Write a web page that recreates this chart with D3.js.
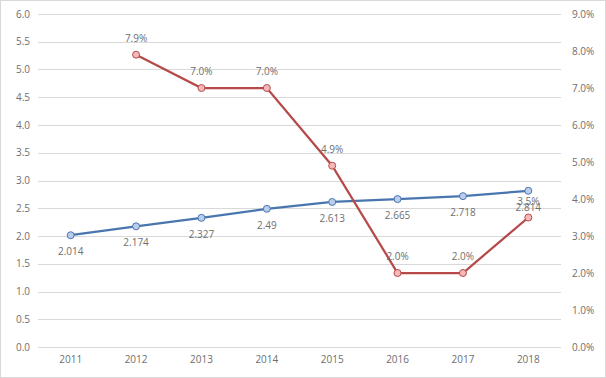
<!DOCTYPE html>
<html><head><meta charset="utf-8">
<script src="https://cdn.jsdelivr.net/npm/d3@7"></script>
<style>body{margin:0;background:#fff}svg{display:block}text{font-family:"Open Sans","Liberation Sans",sans-serif}</style>
</head><body><svg id="c" width="606" height="378"></svg>
<script>
const years = ["2011","2012","2013","2014","2015","2016","2017","2018"];
const valueSeries = [2.014, 2.174, 2.327, 2.49, 2.613, 2.665, 2.718, 2.814];
const valueLabels = ["2.014","2.174","2.327","2.49","2.613","2.665","2.718","2.814"];
const rateYears = ["2012","2013","2014","2015","2016","2017","2018"];
const rateSeries = [7.9, 7.0, 7.0, 4.9, 2.0, 2.0, 3.5];
const leftTicks = [0,0.5,1,1.5,2,2.5,3,3.5,4,4.5,5,5.5,6];
const rightTicks = [0,1,2,3,4,5,6,7,8,9];

const svg = d3.select("#c");
const L = 38, R = 561, T = 14, B = 347;
const txt = "#6e6e6e";
svg.append("rect").attr("x",0.5).attr("y",0.5).attr("width",605).attr("height",377)
  .attr("fill","#fff").attr("stroke","#d9d9d9");

const x = d3.scaleBand().domain(years).range([L,R]);
const yL = d3.scaleLinear().domain([0,6]).range([B,T]);
const yR = d3.scaleLinear().domain([0,9]).range([B,T]);
const cx = d => x(d) + x.bandwidth()/2;

svg.append("g").selectAll("line").data(leftTicks).join("line")
  .attr("x1",L).attr("x2",R).attr("y1",d=>Math.round(yL(d))+0.5).attr("y2",d=>Math.round(yL(d))+0.5)
  .attr("stroke","#d9d9d9").attr("stroke-width",1);

const axL = d3.axisLeft(yL).tickValues(leftTicks).tickFormat(d3.format(".1f")).tickSize(0).tickPadding(8);
const gL = svg.append("g").attr("transform",`translate(${L},0)`).call(axL);
const axR = d3.axisRight(yR).tickValues(rightTicks).tickFormat(d=>d3.format(".1f")(d)+"%").tickSize(0).tickPadding(11);
const gR = svg.append("g").attr("transform",`translate(${R},0)`).call(axR);
const axB = d3.axisBottom(x).tickSize(0).tickPadding(9);
const gB = svg.append("g").attr("transform",`translate(0,${B})`).call(axB);
[gL,gR,gB].forEach(g=>{g.select(".domain").remove();
  g.selectAll("text").attr("fill",txt).style("font-size","10px");});

const blue = years.map((y,i)=>({y, v:valueSeries[i], l:valueLabels[i]}));
svg.append("path").datum(blue).attr("fill","none").attr("stroke","#4a76b0").attr("stroke-width",2.25)
  .attr("d", d3.line().x(d=>cx(d.y)).y(d=>yL(d.v)));
svg.append("g").selectAll("circle").data(blue).join("circle")
  .attr("cx",d=>cx(d.y)).attr("cy",d=>yL(d.v)).attr("r",3.5)
  .attr("fill","#b9cdec").attr("stroke","#4a76b0").attr("stroke-width",1);
svg.append("g").selectAll("text").data(blue).join("text")
  .attr("x",d=>cx(d.y)).attr("y",d=>yL(d.v)+20).attr("text-anchor","middle")
  .attr("fill",txt).style("font-size","10px").text(d=>d.l);

const red = rateYears.map((y,i)=>({y, v:rateSeries[i]}));
svg.append("path").datum(red).attr("fill","none").attr("stroke","#b64a4a").attr("stroke-width",2.25)
  .attr("d", d3.line().x(d=>cx(d.y)).y(d=>yR(d.v)));
svg.append("g").selectAll("circle").data(red).join("circle")
  .attr("cx",d=>cx(d.y)).attr("cy",d=>yR(d.v)).attr("r",3.5)
  .attr("fill","#f5b8b8").attr("stroke","#b64a4a").attr("stroke-width",1);
svg.append("g").selectAll("text").data(red).join("text")
  .attr("x",d=>cx(d.y)).attr("y",d=>yR(d.v)-13).attr("text-anchor","middle")
  .attr("fill",txt).style("font-size","10px").text(d=>d3.format(".1f")(d.v)+"%");
</script></body></html>
